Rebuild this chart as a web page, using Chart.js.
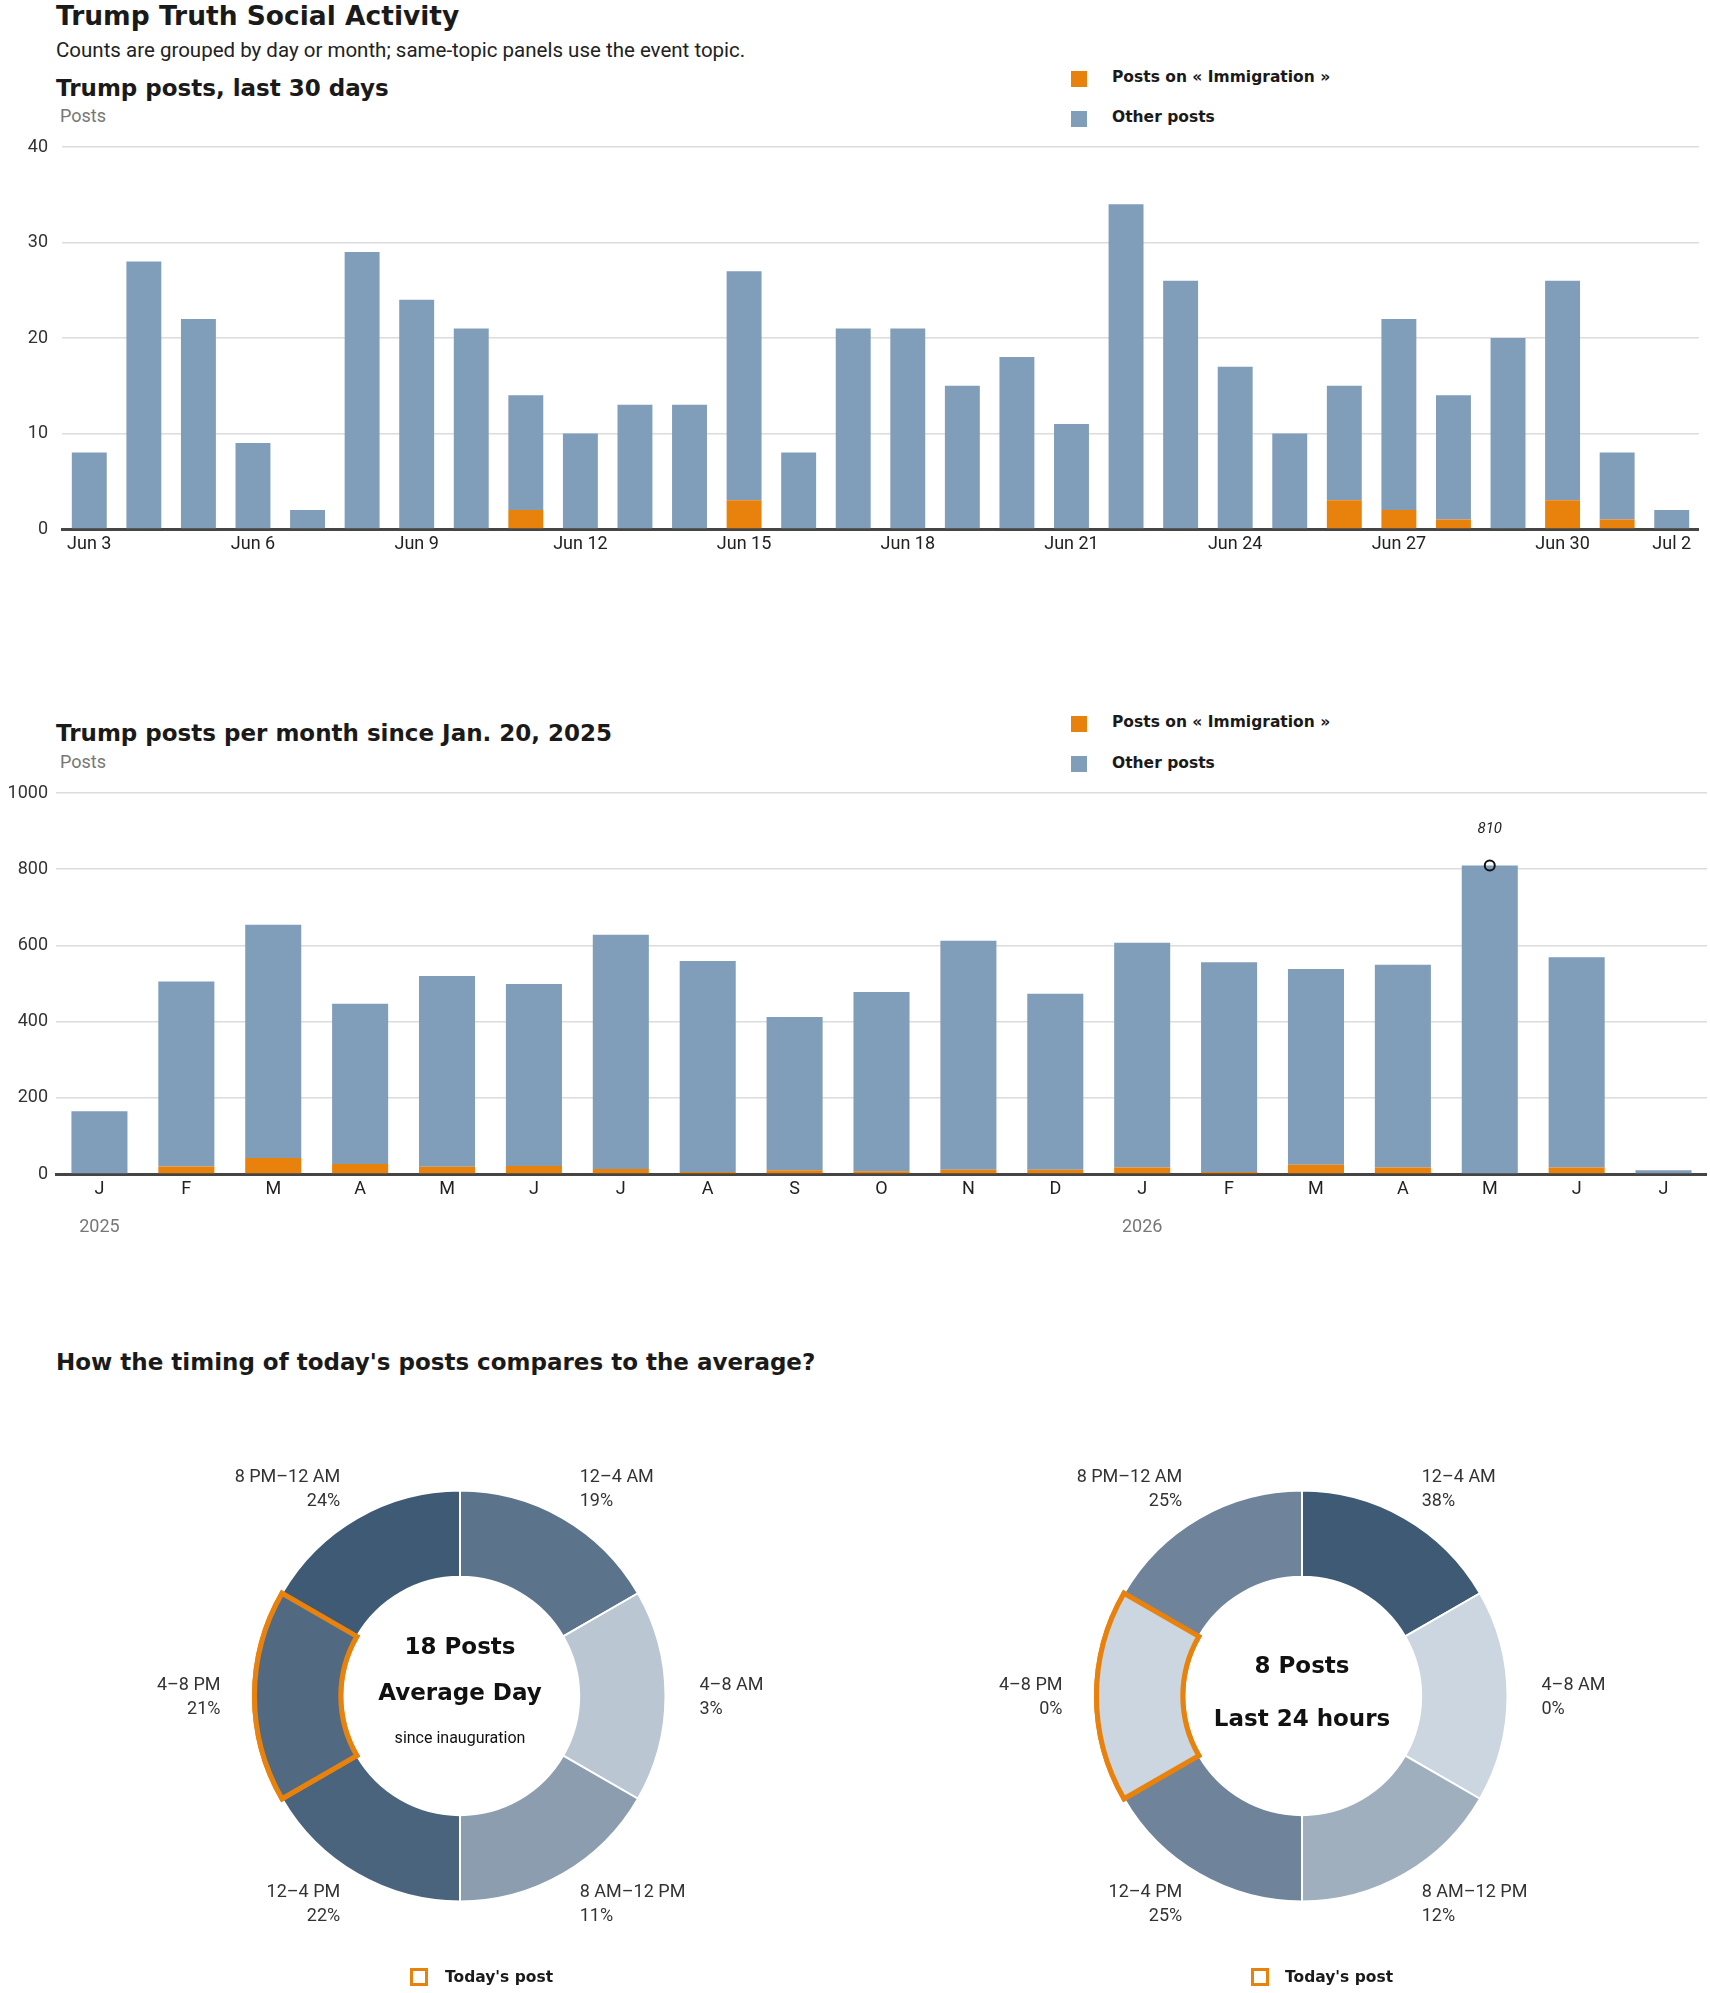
<!DOCTYPE html>
<html>
<head>
<meta charset="utf-8">
<script src="https://cdn.jsdelivr.net/npm/chart.js@4.4.1/dist/chart.umd.min.js"></script>
<style>
  body { margin: 0; background: #fff; color: #1a1a1a; font-family: Roboto, "Liberation Sans", sans-serif; }
  #page { position: relative; width: 1710px; height: 1993px; overflow: hidden; }
  .t { position: absolute; white-space: nowrap; line-height: 1; }
  .bold { font-family: "DejaVu Sans", sans-serif; font-weight: bold; }
  .h1 { font-size: 26.5px; }
  .h2 { font-size: 23px; }
  .sub { font-size: 20.5px; color: #222; }
  .unit { font-size: 18px; color: #777; }
  .lg { font-size: 15.5px; }
  .sq { position: absolute; width: 16px; height: 16px; }
  .ring { position: absolute; width: 12px; height: 12px; border: 3px solid #e8820c; background: #fff; }
  canvas { position: absolute; }
</style>
</head>
<body>
<div id="page">
  <div class="t bold h1" style="left:56px;top:3px">Trump Truth Social Activity</div>
  <div class="t sub" style="left:56px;top:40px">Counts are grouped by day or month; same-topic panels use the event topic.</div>

  <div class="t bold h2" style="left:56px;top:77px">Trump posts, last 30 days</div>
  <div class="t unit" style="left:60px;top:107px">Posts</div>
  <div class="sq" style="left:1071px;top:71px;background:#e8820c"></div>
  <div class="t bold lg" style="left:1112px;top:70px">Posts on « Immigration »</div>
  <div class="sq" style="left:1071px;top:111px;background:#809db9"></div>
  <div class="t bold lg" style="left:1112px;top:110px">Other posts</div>
  <canvas id="daily" width="1699" height="429" style="left:0;top:130px"></canvas>

  <div class="t bold h2" style="left:56px;top:722px">Trump posts per month since Jan. 20, 2025</div>
  <div class="t unit" style="left:60px;top:753px">Posts</div>
  <div class="sq" style="left:1071px;top:716px;background:#e8820c"></div>
  <div class="t bold lg" style="left:1112px;top:715px">Posts on « Immigration »</div>
  <div class="sq" style="left:1071px;top:756px;background:#809db9"></div>
  <div class="t bold lg" style="left:1112px;top:756px">Other posts</div>
  <canvas id="monthly" width="1707" height="468" style="left:0;top:776px"></canvas>

  <div class="t bold h2" style="left:56px;top:1351px">How the timing of today's posts compares to the average?</div>
  <canvas id="avgDay" width="800" height="560" style="left:60px;top:1416px"></canvas>
  <canvas id="lastDay" width="800" height="560" style="left:902px;top:1416px"></canvas>
  <div class="ring" style="left:410px;top:1968px"></div>
  <div class="t bold lg" style="left:445px;top:1970px">Today's post</div>
  <div class="ring" style="left:1251px;top:1968px"></div>
  <div class="t bold lg" style="left:1285px;top:1970px">Today's post</div>
</div>

<script>
// ---- last 30 days ----
const dayLabels = ["Jun 3", "Jun 4", "Jun 5", "Jun 6", "Jun 7", "Jun 8", "Jun 9", "Jun 10", "Jun 11", "Jun 12",
    "Jun 13", "Jun 14", "Jun 15", "Jun 16", "Jun 17", "Jun 18", "Jun 19", "Jun 20", "Jun 21", "Jun 22",
    "Jun 23", "Jun 24", "Jun 25", "Jun 26", "Jun 27", "Jun 28", "Jun 29", "Jun 30", "Jul 1", "Jul 2"];
const dayTicks = ["Jun 3", "Jun 6", "Jun 9", "Jun 12", "Jun 15", "Jun 18", "Jun 21", "Jun 24", "Jun 27", "Jun 30", "Jul 2"];
const dayTotal = [8, 28, 22, 9, 2, 29, 24, 21, 14, 10, 13, 13, 27, 8, 21,
    21, 15, 18, 11, 34, 26, 17, 10, 15, 22, 14, 20, 26, 8, 2];
const dayImmigration = [0, 0, 0, 0, 0, 0, 0, 0, 2, 0, 0, 0, 3, 0, 0,
    0, 0, 0, 0, 0, 0, 0, 0, 3, 2, 1, 0, 3, 1, 0];

// ---- per month since inauguration ----
const monthLabels = ["J", "F", "M", "A", "M", "J", "J", "A", "S", "O", "N", "D", "J", "F", "M", "A", "M", "J", "J"];
const yearTicks = ["2025", "", "", "", "", "", "", "", "", "", "", "", "2026", "", "", "", "", "", ""];
const monthTotal = [165, 505, 654, 447, 520, 499, 628, 559, 412, 478, 612, 473, 607, 556, 538, 549, 810, 569, 10];
const monthImmigration = [2, 20, 42, 26, 19, 21, 13, 5, 10, 7, 11, 11, 17, 5, 24, 17, 0, 17, 0];

// ---- time of day ----
const slotLabels = ["12–4 AM", "4–8 AM", "8 AM–12 PM", "12–4 PM", "4–8 PM", "8 PM–12 AM"];
const slotHours = [4, 4, 4, 4, 4, 4];
const averageShare = [19, 3, 11, 22, 21, 24];
const last24Share = [38, 0, 12, 25, 0, 25];
const todaySlot = "4–8 PM";
const averagePosts = 18;
const last24Posts = 8;

const BLUE = "#809db9";
const ORANGE = "#e8820c";
const LIGHT = [204, 214, 224];
const DARK = [63, 90, 117];

function shade(t) {
    return "rgb(" + LIGHT.map((c, k) => Math.round(c + (DARK[k] - c) * t)).join(",") + ")";
}

function stackedBars(id, labels, imm, total, opts) {
    const other = total.map((t, i) => t - imm[i]);
    return new Chart(document.getElementById(id), {
        type: "bar",
        data: {
            labels: labels,
            datasets: [
                { label: "Posts on « Immigration »", data: imm, backgroundColor: ORANGE },
                { label: "Other posts", data: other, backgroundColor: BLUE }
            ]
        },
        options: {
            responsive: false,
            animation: false,
            events: [],
            datasets: { bar: { categoryPercentage: opts.barShare, barPercentage: 1 } },
            layout: { padding: { top: 17, left: 0, right: 0, bottom: 0 } },
            plugins: { legend: { display: false }, tooltip: { enabled: false } },
            scales: {
                x: {
                    stacked: true,
                    z: 1,
                    grid: { display: false },
                    border: { display: true, color: "#454545", width: 3 },
                    ticks: {
                        autoSkip: false,
                        maxRotation: 0,
                        padding: -3,
                        color: "#222",
                        font: { family: "Roboto", size: 18 },
                        callback: opts.tickLabel
                    },
                    afterFit: s => { s.height = opts.xHeight; }
                },
                y: {
                    stacked: true,
                    min: 0,
                    max: opts.max,
                    ticks: {
                        stepSize: opts.step,
                        padding: opts.yWidth - 48,
                        color: "#333",
                        font: { family: "Roboto", size: 18 },
                        callback: v => String(v)
                    },
                    grid: { color: "#dcdcdc", lineWidth: 1.5, drawTicks: false },
                    border: { display: false },
                    afterFit: s => {
                        s.width = opts.yWidth;
                        s.paddingTop = 0;
                        s.paddingBottom = 0;
                    }
                }
            }
        },
        plugins: opts.plugins || []
    });
}

stackedBars("daily", dayLabels, dayImmigration, dayTotal, {
    barShare: 0.64,
    max: 40,
    step: 10,
    yWidth: 62,
    xHeight: 30,
    tickLabel: (v, i) => dayTicks.includes(dayLabels[i]) ? dayLabels[i] : ""
});

// year row under the month initials + the peak marker
const yearRow = {
    id: "yearRow",
    afterDraw(chart) {
        const ctx = chart.ctx;
        const x = chart.scales.x;
        ctx.save();
        ctx.font = "18px Roboto";
        ctx.fillStyle = "#777";
        ctx.textAlign = "center";
        ctx.textBaseline = "middle";
        yearTicks.forEach((t, i) => {
            if (t) ctx.fillText(t, x.getPixelForValue(i), chart.chartArea.bottom + 53);
        });
        ctx.restore();
    }
};

const peakNote = {
    id: "peakNote",
    afterDatasetsDraw(chart) {
        const i = monthTotal.indexOf(Math.max(...monthTotal));
        const bar = chart.getDatasetMeta(1).data[i];
        const ctx = chart.ctx;
        ctx.save();
        ctx.beginPath();
        ctx.arc(bar.x, bar.y, 5, 0, Math.PI * 2);
        ctx.lineWidth = 2;
        ctx.strokeStyle = "#111";
        ctx.stroke();
        ctx.font = "italic 15px Roboto";
        ctx.fillStyle = "#222";
        ctx.textAlign = "center";
        ctx.textBaseline = "middle";
        ctx.fillText(String(monthTotal[i]), bar.x, bar.y - 36);
        ctx.restore();
    }
};

stackedBars("monthly", monthLabels, monthImmigration, monthTotal, {
    barShare: 0.645,
    max: 1000,
    step: 200,
    yWidth: 56,
    xHeight: 70,
    tickLabel: (v, i) => monthLabels[i],
    plugins: [yearRow, peakNote]
});

// ---- doughnuts ----
function donut(id, shares, centerLines) {
    const max = Math.max(...shares);
    const hi = slotLabels.indexOf(todaySlot);

    const slotText = {
        id: "slotText",
        afterDraw(chart) {
            const ctx = chart.ctx;
            ctx.save();
            ctx.font = "18px Roboto";
            ctx.fillStyle = "#333";
            ctx.textBaseline = "middle";
            chart.getDatasetMeta(0).data.forEach((arc, i) => {
                const p = arc.getProps(["x", "y", "startAngle", "endAngle", "outerRadius"]);
                const mid = (p.startAngle + p.endAngle) / 2;
                const r = p.outerRadius + 34;
                const cx = p.x + Math.cos(mid) * r;
                const cy = p.y + Math.sin(mid) * r;
                const c = Math.cos(mid);
                ctx.textAlign = c > 0.01 ? "left" : (c < -0.01 ? "right" : "center");
                ctx.fillText(slotLabels[i], cx, cy - 11);
                ctx.fillText(shares[i] + "%", cx, cy + 13);
            });
            ctx.restore();
        }
    };

    const centerText = {
        id: "centerText",
        afterDraw(chart) {
            const arc = chart.getDatasetMeta(0).data[0];
            const ctx = chart.ctx;
            ctx.save();
            ctx.textAlign = "center";
            ctx.textBaseline = "middle";
            ctx.fillStyle = "#111";
            centerLines.forEach(l => {
                ctx.font = l.font;
                ctx.fillText(l.text, arc.x, arc.y + l.dy);
            });
            ctx.restore();
        }
    };

    // keep the highlighted slot's outline above its neighbours
    const highlightOnTop = {
        id: "highlightOnTop",
        afterDatasetsDraw(chart) {
            chart.getDatasetMeta(0).data[hi].draw(chart.ctx);
        }
    };

    return new Chart(document.getElementById(id), {
        type: "doughnut",
        data: {
            labels: slotLabels,
            datasets: [{
                data: slotHours,
                backgroundColor: shares.map(s => shade(s / max)),
                borderColor: slotLabels.map((_, i) => i === hi ? ORANGE : "#fff"),
                borderWidth: slotLabels.map((_, i) => i === hi ? 5 : 2),
                borderJoinStyle: "miter"
            }]
        },
        options: {
            responsive: false,
            animation: false,
            events: [],
            cutout: "58%",
            layout: { padding: { top: 72, bottom: 72, left: 0, right: 0 } },
            plugins: { legend: { display: false }, tooltip: { enabled: false } }
        },
        plugins: [slotText, centerText, highlightOnTop]
    });
}

const HEAVY = "bold 23px 'DejaVu Sans'";

donut("avgDay", averageShare, [
    { text: averagePosts + " Posts", dy: -48, font: HEAVY },
    { text: "Average Day", dy: -2, font: HEAVY },
    { text: "since inauguration", dy: 43, font: "16px Roboto" }
]);

donut("lastDay", last24Share, [
    { text: last24Posts + " Posts", dy: -29, font: HEAVY },
    { text: "Last 24 hours", dy: 24, font: HEAVY }
]);
</script>
</body>
</html>
